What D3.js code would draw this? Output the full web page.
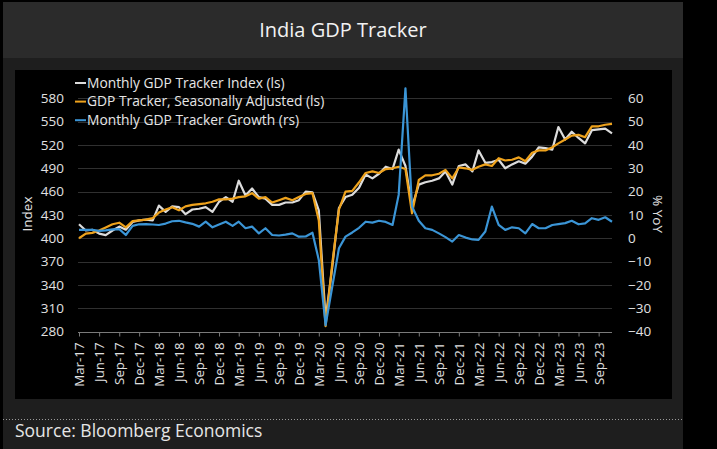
<!DOCTYPE html>
<html>
<head>
<meta charset="utf-8">
<script src="https://cdn.jsdelivr.net/npm/d3@7"></script>
<style>
  body { margin: 0; background: #000; }
  text { font-family: "Open Sans", sans-serif; }
</style>
</head>
<body>
<div id="wrapper"></div>
<script>
// monthly index, Mar-17 .. Nov-23 (left scale)
const trackerIndex = [
  418, 410, 411, 406, 404, 410, 415, 411, 421, 423, 424, 423,
  442, 434, 441, 440, 431, 437, 438, 440, 434, 447, 453, 447,
  474, 455, 464, 453, 451, 443, 443, 446, 446, 449, 460, 459,
  436, 296, 362, 439, 453, 456, 465, 482, 477, 483, 492, 489,
  514, 493, 440, 469, 472, 474, 477, 486, 469, 493, 495, 486,
  513, 497, 498, 501, 490, 495, 499, 496, 505, 517, 516, 514,
  543, 527, 537, 529, 522, 539, 540, 541, 535
]
// seasonally adjusted (left scale)
const trackerSA = [
  400, 406, 407, 410, 414, 418, 420, 414, 422, 423, 424, 426,
  433, 437, 440, 436, 441, 443, 444, 445, 447, 450, 450, 451,
  453, 454, 458, 451, 453, 446, 449, 452, 449, 453, 457, 458,
  423, 287, 366, 437, 460, 461, 472, 484, 486, 484, 489, 490,
  492, 489, 432, 475, 481, 481, 483, 488, 477, 491, 490, 488,
  492, 495, 493, 503, 500, 501, 504, 499, 510, 513, 513, 517,
  522, 527, 532, 533, 530, 544, 544, 546, 547
]
// growth % YoY (right scale)
const trackerGrowth = [
  3.6, 3.6, 3.6, 3.2, 3.4, 3.8, 3.9, 1.4, 5.3, 6.0, 6.1, 5.9,
  5.7, 6.3, 7.3, 7.5, 6.8, 6.2, 5.0, 7.1, 4.7, 5.9, 7.1, 5.3,
  7.1, 4.3, 5.0, 2.1, 4.3, 1.4, 1.2, 1.6, 2.1, 0.7, 0.8, 2.4,
  -9.3, -37.2, -21, -4.3, 0.7, 2.5, 4.5, 7.1, 6.7, 7.5, 7.0, 5.7,
  18.6, 64.3, 13.6, 7.5, 4.3, 3.6, 2.1, 0.5, -1.4, 1.4, 0.3, -0.5,
  -0.7, 2.9, 13.6, 5.7, 3.6, 4.7, 4.3, 2.1, 6.1, 4.3, 4.3, 5.7,
  6.1, 6.5, 7.5, 6.0, 6.4, 8.6, 7.9, 9.0, 7.1
]
const leftTicks = [280, 310, 340, 370, 400, 430, 460, 490, 520, 550, 580]
const rightTicks = [-40, -30, -20, -10, 0, 10, 20, 30, 40, 50, 60]
const seriesNames = [
  "Monthly GDP Tracker Index (ls)",
  "GDP Tracker, Seasonally Adjusted (ls)",
  "Monthly GDP Tracker Growth (rs)"
]
const seriesColors = ["#dcdcdc", "#eea21c", "#3b95d6"]

const months = d3.timeMonth.range(new Date(2017, 2, 1), new Date(2023, 11, 1))
const fmt = d3.timeFormat("%b-%y")

const dimensions = { width: 717, height: 449 }
const plot = { left: 79, right: 612, top: 98.3, bottom: 331.6 }

const svg = d3.select("#wrapper")
    .append("svg")
    .attr("width", dimensions.width)
    .attr("height", dimensions.height)

// frame
svg.append("rect").attr("x", 3).attr("y", 2).attr("width", 680).attr("height", 56).attr("fill", "#2b2b2b")
svg.append("rect").attr("x", 3).attr("y", 58).attr("width", 680).attr("height", 391).attr("fill", "#1e1e1e")
svg.append("rect").attr("x", 15).attr("y", 70).attr("width", 657).attr("height", 329).attr("fill", "#000")
svg.append("line")
    .attr("x1", 3).attr("x2", 683).attr("y1", 419.5).attr("y2", 419.5)
    .attr("stroke", "#9a9a9a").attr("stroke-dasharray", "1,2")

svg.append("text")
    .attr("x", 343).attr("y", 37)
    .attr("text-anchor", "middle")
    .attr("fill", "#f2f2f2")
    .style("font-size", "20px")
    .text("India GDP Tracker")

svg.append("text")
    .attr("x", 15).attr("y", 437)
    .attr("fill", "#e6e6e6")
    .style("font-size", "17.5px")
    .text("Source: Bloomberg Economics")

// scales
const xScale = d3.scaleTime()
    .domain(d3.extent(months))
    .range([plot.left, plot.right])
const yLeft = d3.scaleLinear()
    .domain([280, 580])
    .range([plot.bottom, plot.top])
const yRight = d3.scaleLinear()
    .domain([-40, 60])
    .range([plot.bottom, plot.top])

// gridlines
svg.append("g")
    .selectAll("line")
    .data(leftTicks.slice(1))
    .join("line")
    .attr("x1", plot.left - 1).attr("x2", plot.right)
    .attr("y1", d => Math.round(yLeft(d)) + 0.5)
    .attr("y2", d => Math.round(yLeft(d)) + 0.5)
    .attr("stroke", "#303030")

// left axis
const leftAxis = svg.append("g")
    .attr("transform", `translate(64,0)`)
    .call(d3.axisLeft(yLeft).tickValues(leftTicks).tickSize(0).tickPadding(0))
leftAxis.select(".domain").remove()
leftAxis.selectAll("text").attr("fill", "#e0e0e0").style("font-size", "13.5px")

// right axis
const rightAxis = svg.append("g")
    .attr("transform", `translate(628,0)`)
    .call(d3.axisRight(yRight).tickValues(rightTicks).tickSize(0).tickPadding(0))
rightAxis.select(".domain").remove()
rightAxis.selectAll("text").attr("fill", "#e0e0e0").style("font-size", "13.5px")

// x axis
const xAxis = svg.append("g")
    .attr("transform", `translate(0,${Math.round(plot.bottom) + 0.5})`)
    .call(d3.axisBottom(xScale)
        .tickValues(months.filter((d, i) => i % 3 === 0))
        .tickFormat(fmt)
        .tickSizeInner(4)
        .tickSizeOuter(0))
xAxis.select(".domain").attr("stroke", "#7a7a7a").attr("d", `M${plot.left - 1},0H${plot.right}`)
xAxis.selectAll(".tick line").attr("stroke", "#7a7a7a")
xAxis.selectAll("text")
    .attr("fill", "#e0e0e0")
    .style("font-size", "13.3px")
    .attr("text-anchor", "end")
    .attr("transform", "rotate(-90)")
    .attr("x", -10)
    .attr("y", 0)
    .attr("dy", "0.35em")

// axis titles
svg.append("text")
    .attr("transform", "translate(32,214) rotate(-90)")
    .attr("text-anchor", "middle")
    .attr("fill", "#e0e0e0")
    .style("font-size", "13.5px")
    .text("Index")
svg.append("text")
    .attr("transform", "translate(653,214) rotate(90)")
    .attr("text-anchor", "middle")
    .attr("fill", "#e0e0e0")
    .style("font-size", "13.5px")
    .text("% YoY")

// lines
const lineLeft = d3.line()
    .x((d, i) => xScale(months[i]))
    .y(d => yLeft(d))
const lineRight = d3.line()
    .x((d, i) => xScale(months[i]))
    .y(d => yRight(d))

const lines = svg.append("g").attr("fill", "none").attr("stroke-width", 2.2).attr("stroke-linejoin", "round")
lines.append("path").attr("d", lineLeft(trackerIndex)).attr("stroke", seriesColors[0])
lines.append("path").attr("d", lineLeft(trackerSA)).attr("stroke", seriesColors[1])
lines.append("path").attr("d", lineRight(trackerGrowth)).attr("stroke", seriesColors[2])

// legend
const legend = svg.append("g")
    .selectAll("g")
    .data(seriesNames)
    .join("g")
    .attr("transform", (d, i) => `translate(75,${83 + i * 18.6})`)
legend.append("line")
    .attr("x1", 0).attr("x2", 11)
    .attr("stroke", (d, i) => seriesColors[i])
    .attr("stroke-width", 2)
legend.append("text")
    .attr("x", 12)
    .attr("dy", "0.35em")
    .attr("fill", "#e6e6e6")
    .style("font-size", "13.8px")
    .text(d => d)
</script>
</body>
</html>
